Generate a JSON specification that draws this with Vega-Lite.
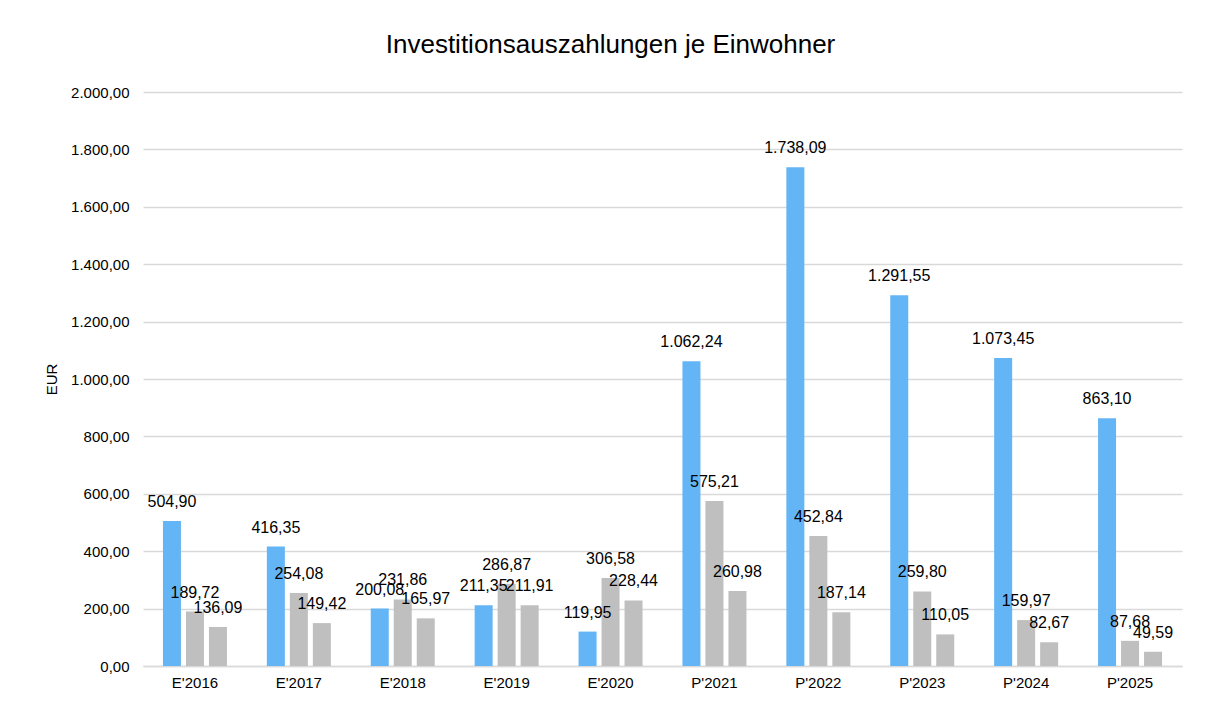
{
  "$schema": "https://vega.github.io/schema/vega-lite/v6.json",
  "autosize": {"type": "none"},
  "width": 1039,
  "height": 574,
  "padding": {"left": 143, "top": 92, "right": 28, "bottom": 36},
  "background": "white",
  "config": {
    "locale": {"number": {"decimal": ",", "thousands": ".", "grouping": [3], "currency": ["", " €"]}},
    "font": "Liberation Sans",
    "view": {"stroke": null}
  },
  "title": {
    "text": "Investitionsauszahlungen je Einwohner",
    "fontSize": 26,
    "fontWeight": "normal",
    "color": "#000000",
    "font": "Liberation Sans",
    "frame": "group",
    "anchor": "middle",
    "dx": -52,
    "offset": 27
  },
  "data": {
    "values": [
      {"jahr": "E'2016", "reihe": "Reihe 1", "wert": 504.90},
      {"jahr": "E'2016", "reihe": "Reihe 2", "wert": 189.72},
      {"jahr": "E'2016", "reihe": "Reihe 3", "wert": 136.09},
      {"jahr": "E'2017", "reihe": "Reihe 1", "wert": 416.35},
      {"jahr": "E'2017", "reihe": "Reihe 2", "wert": 254.08},
      {"jahr": "E'2017", "reihe": "Reihe 3", "wert": 149.42},
      {"jahr": "E'2018", "reihe": "Reihe 1", "wert": 200.08},
      {"jahr": "E'2018", "reihe": "Reihe 2", "wert": 231.86},
      {"jahr": "E'2018", "reihe": "Reihe 3", "wert": 165.97},
      {"jahr": "E'2019", "reihe": "Reihe 1", "wert": 211.35},
      {"jahr": "E'2019", "reihe": "Reihe 2", "wert": 286.87},
      {"jahr": "E'2019", "reihe": "Reihe 3", "wert": 211.91},
      {"jahr": "E'2020", "reihe": "Reihe 1", "wert": 119.95},
      {"jahr": "E'2020", "reihe": "Reihe 2", "wert": 306.58},
      {"jahr": "E'2020", "reihe": "Reihe 3", "wert": 228.44},
      {"jahr": "P'2021", "reihe": "Reihe 1", "wert": 1062.24},
      {"jahr": "P'2021", "reihe": "Reihe 2", "wert": 575.21},
      {"jahr": "P'2021", "reihe": "Reihe 3", "wert": 260.98},
      {"jahr": "P'2022", "reihe": "Reihe 1", "wert": 1738.09},
      {"jahr": "P'2022", "reihe": "Reihe 2", "wert": 452.84},
      {"jahr": "P'2022", "reihe": "Reihe 3", "wert": 187.14},
      {"jahr": "P'2023", "reihe": "Reihe 1", "wert": 1291.55},
      {"jahr": "P'2023", "reihe": "Reihe 2", "wert": 259.80},
      {"jahr": "P'2023", "reihe": "Reihe 3", "wert": 110.05},
      {"jahr": "P'2024", "reihe": "Reihe 1", "wert": 1073.45},
      {"jahr": "P'2024", "reihe": "Reihe 2", "wert": 159.97},
      {"jahr": "P'2024", "reihe": "Reihe 3", "wert": 82.67},
      {"jahr": "P'2025", "reihe": "Reihe 1", "wert": 863.10},
      {"jahr": "P'2025", "reihe": "Reihe 2", "wert": 87.68},
      {"jahr": "P'2025", "reihe": "Reihe 3", "wert": 49.59}
    ]
  },
  "encoding": {
    "x": {
      "field": "jahr",
      "type": "nominal",
      "sort": null,
      "scale": {"paddingInner": 0.384, "paddingOuter": 0.192},
      "axis": {
        "title": null,
        "labelAngle": 0,
        "labelFontSize": 15,
        "labelColor": "#000000",
        "labelPadding": 9,
        "ticks": false,
        "domainColor": "#D9D9D9",
        "domainWidth": 1.3
      }
    },
    "xOffset": {
      "field": "reihe",
      "type": "nominal",
      "sort": null,
      "scale": {"paddingInner": 0.217, "paddingOuter": 0}
    },
    "y": {
      "field": "wert",
      "type": "quantitative",
      "scale": {"domain": [0, 2000], "nice": false},
      "axis": {
        "values": [0, 200, 400, 600, 800, 1000, 1200, 1400, 1600, 1800, 2000],
        "format": ",.2f",
        "grid": true,
        "gridColor": "#D9D9D9",
        "gridWidth": 1.3,
        "domain": false,
        "ticks": false,
        "labelPadding": 14,
        "labelFontSize": 15,
        "labelColor": "#000000",
        "title": "EUR",
        "titleFontSize": 15,
        "titleFontWeight": "normal",
        "titleColor": "#000000",
        "titleX": -92,
        "titleY": 287,
        "titleBaseline": "middle",
        "titleAngle": -90
      }
    }
  },
  "layer": [
    {
      "mark": {"type": "bar"},
      "encoding": {
        "color": {
          "field": "reihe",
          "type": "nominal",
          "scale": {"domain": ["Reihe 1", "Reihe 2", "Reihe 3"], "range": ["#64B5F6", "#BFBFBF", "#BFBFBF"]},
          "legend": null
        }
      }
    },
    {
      "mark": {"type": "text", "baseline": "alphabetic", "dy": -14, "fontSize": 16, "color": "#000000"},
      "encoding": {
        "text": {"field": "wert", "type": "quantitative", "format": ",.2f"}
      }
    }
  ]
}
